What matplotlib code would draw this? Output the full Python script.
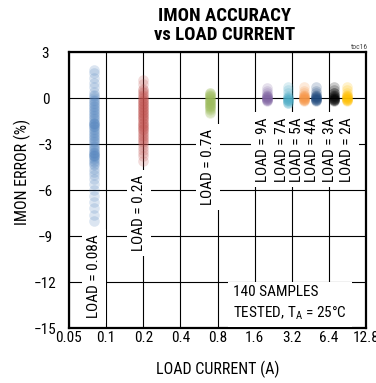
import matplotlib
matplotlib.use('Agg')
import matplotlib.pyplot as plt

plt.rcParams['font.family'] = ['Roboto Condensed', 'DejaVu Sans']
plt.rcParams['mathtext.fontset'] = 'custom'
plt.rcParams['mathtext.rm'] = 'Roboto Condensed'

# load current of each group (A), position on the log axis
loads = [0.08, 0.2, 0.7, 2, 3, 4, 5, 7, 9]
colors = ['#4F81BD', '#C0504D', '#9BBB59', '#8064A2', '#4BACC6',
          '#F79646', '#1F497D', '#000000', '#FFC000']

# IMON error (%), one list per group
err_008 = [1.8, 1.6, 1.3, 1.0, 0.7, 0.4, 0.2, 0.1, 0.0, -0.1, -0.2, -0.3, -0.4,
           -0.5, -0.6, -0.7, -0.8, -0.9, -1.0, -1.1, -1.2, -1.3, -1.4, -1.5, -1.6,
           -1.6, -1.7, -1.7, -1.8, -1.8, -1.9, -2.0, -2.1, -2.2, -2.3, -2.4, -2.5,
           -2.6, -2.7, -2.8, -2.9, -3.0, -3.1, -3.2, -3.3, -3.4, -3.5, -3.6, -3.6,
           -3.7, -3.7, -3.8, -3.8, -3.9, -4.0, -4.1, -4.2, -4.3, -4.4, -4.6, -4.8,
           -5.0, -5.3, -5.6, -6.0, -6.4, -6.8, -7.2, -7.6, -8.0]
err_02 = [1.2, 0.9, 0.6, 0.5, 0.4, 0.3, 0.2, 0.1, 0.0, 0.0, -0.1, -0.2, -0.2,
          -0.3, -0.4, -0.4, -0.5, -0.6, -0.6, -0.7, -0.8, -0.8, -0.9, -1.0, -1.0,
          -1.1, -1.2, -1.2, -1.3, -1.4, -1.4, -1.5, -1.6, -1.6, -1.7, -1.8, -1.8,
          -1.9, -2.0, -2.0, -2.1, -2.2, -2.3, -2.4, -2.5, -2.6, -2.7, -2.8, -2.9,
          -3.0, -3.2, -3.4, -3.6, -3.8, -4.1]
err_07 = [0.35, 0.3, 0.25, 0.2, 0.15, 0.1, 0.05, 0.0, -0.05, -0.1, -0.15, -0.2,
          -0.25, -0.3, -0.35, -0.4, -0.45, -0.5, -0.55, -0.6, -0.65, -0.7, -0.8,
          -0.9, -1.0]
err_2 = [0.65, 0.45, 0.3, 0.2, 0.15, 0.1, 0.05, 0.05, 0.0, 0.0, -0.05, -0.05,
         -0.1, -0.1, -0.15, -0.2]
err_3 = [0.7, 0.5, 0.3, 0.1, 0.05, 0.0, 0.0, -0.05, -0.1, -0.1, -0.15, -0.2,
         -0.25, -0.3, -0.35]
err_4 = [0.7, 0.45, 0.3, 0.2, 0.15, 0.1, 0.05, 0.05, 0.0, 0.0, -0.05, -0.05,
         -0.1, -0.1, -0.15, -0.2]
err_5 = [0.7, 0.45, 0.3, 0.2, 0.15, 0.1, 0.05, 0.05, 0.0, 0.0, -0.05, -0.05,
         -0.1, -0.1, -0.15, -0.2]
err_7 = [0.7, 0.5, 0.35, 0.3, 0.2, 0.15, 0.1, 0.05, 0.0, 0.0, -0.05, -0.05,
         -0.1, -0.1, -0.15, -0.2]
err_9 = [0.75, 0.5, 0.3, 0.2, 0.15, 0.1, 0.05, 0.05, 0.0, 0.0, -0.05, -0.05,
         -0.1, -0.1, -0.15, -0.2]
errors = [err_008, err_02, err_07, err_2, err_3, err_4, err_5, err_7, err_9]

xticks = [0.05, 0.1, 0.2, 0.4, 0.8, 1.6, 3.2, 6.4, 12.8]
xticklabels = ['0.05', '0.1', '0.2', '0.4', '0.8', '1.6', '3.2', '6.4', '12.8']
yticks = [-15, -12, -9, -6, -3, 0, 3]

# text labels: (x, y, text)
load_labels = [(0.08, -11.6, 'LOAD = 0.08A'),
               (0.185, -7.5, 'LOAD = 0.2A'),
               (0.67, -4.5, 'LOAD = 0.7A'),
               (1.87, -3.35, 'LOAD = 9A'),
               (2.67, -3.35, 'LOAD = 7A'),
               (3.53, -3.35, 'LOAD = 5A'),
               (4.67, -3.35, 'LOAD = 4A'),
               (6.5, -3.35, 'LOAD = 3A'),
               (8.9, -3.35, 'LOAD = 2A')]

fig = plt.figure(figsize=(3.76, 3.83), dpi=100)
ax = fig.add_axes([69/376, 55/383, 297/376, 276/383])

for x, e, c in zip(loads, errors, colors):
    ax.scatter([x]*len(e), e, s=58, color=c, alpha=0.2, linewidths=0, zorder=2)

ax.set_xscale('log', base=2)
ax.set_xlim(0.05, 12.8)
ax.set_ylim(-15, 3)
ax.set_xticks(xticks)
ax.set_xticklabels(xticklabels)
ax.minorticks_off()
ax.set_yticks(yticks)
ax.grid(True, color='black', lw=0.8)
ax.set_axisbelow(True)
for sp in ax.spines.values():
    sp.set_linewidth(1.6)
ax.tick_params(length=0, labelsize=11)
ax.tick_params(axis='x', pad=2)
ax.tick_params(axis='y', pad=17)
for lab in ax.get_yticklabels():
    lab.set_horizontalalignment('center')

for x, y, t in load_labels:
    ax.text(x, y, t, rotation=90, ha='center', va='center', fontsize=11, zorder=3,
            bbox=dict(boxstyle='square,pad=0.33', fc='white', ec='none'))

ax.text(0.552, 0.155, '140 SAMPLES\nTESTED, T$_\\mathregular{A}$ = 25°C',
        transform=ax.transAxes, ha='left', va='top', fontsize=11, linespacing=1.4,
        zorder=3, bbox=dict(boxstyle='square,pad=0.33', fc='white', ec='none'))

ax.set_xlabel('LOAD CURRENT (A)', fontsize=11.5)
ax.xaxis.set_label_coords(0.5, -0.118)
ax.set_ylabel('IMON ERROR (%)', fontsize=11.5)
ax.yaxis.set_label_coords(-0.128, 0.565)

fig.text(225/376, 1 - 7/383, 'IMON ACCURACY\nvs LOAD CURRENT', ha='center', va='top',
         fontsize=13.5, fontweight='bold', linespacing=1.05)
fig.text(368/376, 1 - 49/383, 'toc16', ha='right', va='baseline', fontsize=5.5,
         color='#444444')

fig.savefig('out.png', dpi=100)
